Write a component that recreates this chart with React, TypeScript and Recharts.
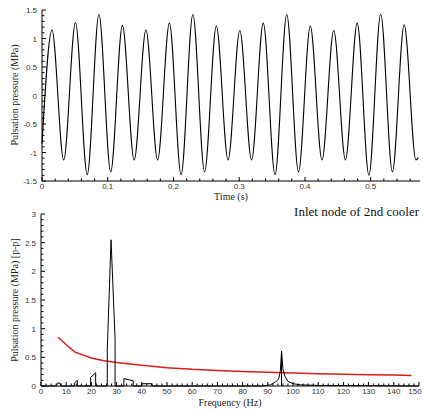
import React from 'react'
import { LineChart, Line, XAxis, YAxis } from 'recharts'

// time trace: start point, then alternating peaks / troughs
const timeS = [
  0, 0.0152, 0.033, 0.0509, 0.0688, 0.0866, 0.1045, 0.1223, 0.1402, 0.1581, 0.1759,
  0.1938, 0.2116, 0.2295, 0.2473, 0.2652, 0.283, 0.3009, 0.3188, 0.3366, 0.3545,
  0.3723, 0.3902, 0.4081, 0.4259, 0.4438, 0.4616, 0.4795, 0.4973, 0.5152, 0.533,
  0.5509, 0.5688, 0.5725,
]
const pressureMPa = [
  -0.85, 1.15, -1.13, 1.28, -1.39, 1.42, -1.34, 1.23, -1.13, 1.15, -1.13,
  1.27, -1.39, 1.42, -1.34, 1.22, -1.13, 1.14, -1.13, 1.27, -1.39,
  1.42, -1.34, 1.22, -1.13, 1.14, -1.13, 1.27, -1.4, 1.43, -1.34,
  1.24, -1.13, -1.09,
]

// spectrum (peak-to-peak)
const freqHz = [
  0, 6.2, 6.4, 7.6, 7.8, 13.2, 13.2, 14.4, 14.4, 19.7, 19.7, 21.7, 21.7,
  26.3, 26.3, 27.8, 29.4, 29.4, 32.9, 32.9, 36.6, 36.6, 40, 40, 44, 44,
  88, 91, 93, 94.3, 95, 95.45, 95.45, 95.45, 96, 96.8, 98, 100, 103, 110, 150,
]
const ampPP = [
  0, 0, 0.05, 0.05, 0, 0, 0.05, 0.1, 0, 0, 0.15, 0.23, 0,
  0, 0.63, 2.55, 0.82, 0, 0, 0.13, 0.09, 0, 0, 0.04, 0.04, 0,
  0, 0.02, 0.07, 0.12, 0.27, 0.61, 0, 0.61, 0.3, 0.17, 0.08, 0.04, 0.02, 0.01, 0,
]

// allowable limit curve
const limitHz = [6.8, 10, 13.5, 20, 25, 30, 40, 50, 60, 70, 80, 90, 100, 110, 120, 130, 140, 147]
const limitPP = [0.85, 0.72, 0.59, 0.49, 0.44, 0.41, 0.36, 0.32, 0.29, 0.27, 0.255, 0.24, 0.225, 0.215, 0.205, 0.195, 0.19, 0.185]

const timeTicks = [0, 0.1, 0.2, 0.3, 0.4, 0.5]
const pressTicks = [-1.5, -1, -0.5, 0, 0.5, 1, 1.5]
const freqTicks = [0, 10, 20, 30, 40, 50, 60, 70, 80, 90, 100, 110, 120, 130, 140, 150]
const ppTicks = [0, 0.5, 1, 1.5, 2, 2.5, 3]

const timeData = timeS.map((t, i) => ({ x: t, y: pressureMPa[i] }))
const specData = freqHz.map((f, i) => ({ x: f, y: ampPP[i] }))
const limitData = limitHz.map((f, i) => ({ x: f, y: limitPP[i] }))

const steps = (from: number, to: number, step: number) => {
  const out: number[] = []
  for (let v = from; v <= to + 1e-9; v += step) out.push(Math.round(v * 1000) / 1000)
  return out
}

const tickFont = { fontFamily: '"Liberation Sans", Arial, sans-serif', fontSize: 8, fill: '#333' }
const serif = '"Liberation Serif", "Times New Roman", serif'

function makeTick(axis: 'x' | 'y', majors: number[]) {
  return (props: any) => {
    const { x, y, payload } = props
    const v = payload.value
    const major = majors.some((m) => Math.abs(m - v) < 1e-6)
    const len = major ? 4 : 2.5
    if (axis === 'x') {
      // keep the right-most label inside the page
      const lx = Math.min(x, 415)
      return (
        <g>
          <line x1={x} y1={y} x2={x} y2={y - len} stroke="#000" strokeWidth={1} />
          {major && (
            <text x={lx} y={y + 8} textAnchor="middle" {...tickFont}>
              {String(v)}
            </text>
          )}
        </g>
      )
    }
    return (
      <g>
        <line x1={x} y1={y} x2={x + len} y2={y} stroke="#000" strokeWidth={1} />
        {major && (
          <text x={x - 5} y={y + 3} textAnchor="end" {...tickFont}>
            {String(v)}
          </text>
        )}
      </g>
    )
  }
}

export default function App() {
  return (
    <div style={{ position: 'absolute', left: 0, top: 0, width: 423, height: 411, background: '#fff' }}>
      <div style={{ position: 'absolute', left: 0, top: 0 }}>
        <LineChart width={423} height={200} margin={{ top: 10, right: 3, bottom: 0, left: 0 }}>
          <XAxis
            dataKey="x"
            type="number"
            domain={[0, 0.575]}
            ticks={steps(0, 0.56, 0.02)}
            interval={0}
            tickLine={false}
            tickSize={0}
            tickMargin={0}
            height={19}
            stroke="#000"
            tick={makeTick('x', timeTicks)}
          />
          <YAxis
            type="number"
            domain={[-1.5, 1.5]}
            ticks={steps(-1.5, 1.5, 0.1)}
            interval={0}
            tickLine={false}
            tickSize={0}
            tickMargin={0}
            width={42}
            stroke="#000"
            tick={makeTick('y', pressTicks)}
          />
          <Line
            data={timeData}
            dataKey="y"
            type="monotone"
            stroke="#000"
            strokeWidth={1.1}
            dot={false}
            isAnimationActive={false}
          />
        </LineChart>
      </div>
      <div style={{ position: 'absolute', left: 0, top: 200 }}>
        <LineChart width={423} height={211} margin={{ top: 14, right: 4, bottom: 0, left: 0 }}>
          <XAxis
            dataKey="x"
            type="number"
            domain={[0, 150]}
            ticks={steps(0, 150, 2)}
            interval={0}
            tickLine={false}
            tickSize={0}
            tickMargin={0}
            height={25}
            stroke="#000"
            tick={makeTick('x', freqTicks)}
          />
          <YAxis
            type="number"
            domain={[0, 3]}
            ticks={steps(0, 3, 0.1)}
            interval={0}
            tickLine={false}
            tickSize={0}
            tickMargin={0}
            width={41}
            stroke="#000"
            tick={makeTick('y', ppTicks)}
          />
          <Line
            data={limitData}
            dataKey="y"
            type="linear"
            stroke="#d41f1a"
            strokeWidth={1.5}
            dot={false}
            isAnimationActive={false}
          />
          <Line
            data={specData}
            dataKey="y"
            type="linear"
            stroke="#000"
            strokeWidth={1}
            dot={false}
            isAnimationActive={false}
          />
        </LineChart>
      </div>

      {/* axis titles */}
      <div
        style={{
          position: 'absolute', left: 14, top: 95, transform: 'translate(-50%, -50%) rotate(-90deg)',
          whiteSpace: 'nowrap', fontFamily: serif, fontSize: 10, color: '#222',
        }}
      >
        Pulsation pressure (MPa)
      </div>
      <div
        style={{
          position: 'absolute', left: 231, top: 196, transform: 'translate(-50%, -50%)',
          whiteSpace: 'nowrap', fontFamily: serif, fontSize: 10, color: '#222',
        }}
      >
        Time (s)
      </div>
      <div
        style={{
          position: 'absolute', left: 14, top: 300, transform: 'translate(-50%, -50%) rotate(-90deg)',
          whiteSpace: 'nowrap', fontFamily: serif, fontSize: 10, color: '#222',
        }}
      >
        Pulsation pressure (MPa) [p-p]
      </div>
      <div
        style={{
          position: 'absolute', left: 230, top: 402, transform: 'translate(-50%, -50%)',
          whiteSpace: 'nowrap', fontFamily: serif, fontSize: 10, color: '#222',
        }}
      >
        Frequency (Hz)
      </div>
      <div
        style={{
          position: 'absolute', right: 4, top: 212, transform: 'translateY(-50%)',
          whiteSpace: 'nowrap', fontFamily: serif, fontSize: 13, color: '#111',
        }}
      >
        Inlet node of 2nd cooler
      </div>
    </div>
  )
}
